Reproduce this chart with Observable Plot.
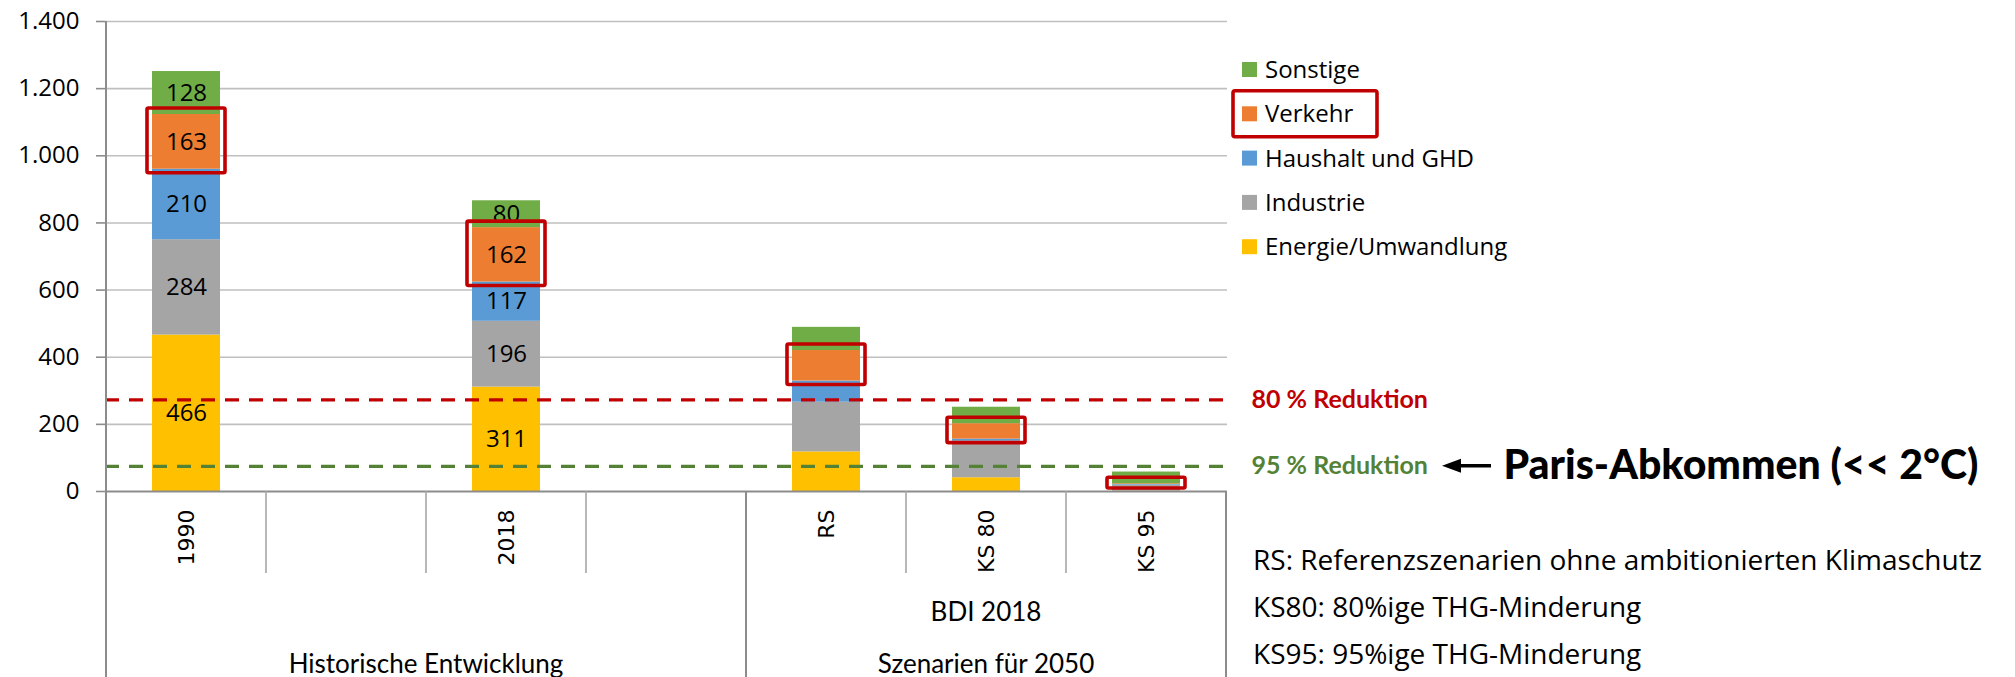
<!DOCTYPE html>
<html><head><meta charset="utf-8">
<script src="https://cdn.jsdelivr.net/npm/d3@7"></script>
<script src="https://cdn.jsdelivr.net/npm/@observablehq/plot@0.6"></script>
<style>
html,body{margin:0;padding:0;background:#fff;overflow:hidden}
</style></head><body><div id="chart"></div>
<script>
// ---- data ----
const categories = ["1990", "leer1", "2018", "leer2", "RS", "KS 80", "KS 95"];
const bars = ["1990", "2018", "RS", "KS 80", "KS 95"];
const sectors = ["Energie/Umwandlung", "Industrie", "Haushalt und GHD", "Verkehr", "Sonstige"];
const sectorColors = ["#FFC000", "#A5A5A5", "#5B9BD5", "#ED7D31", "#70AD47"];
const energie   = [466, 311, 118, 41, 1];
const industrie = [284, 196, 148, 109, 18];
const haushalt  = [210, 117, 63, 6, 2];
const verkehr   = [163, 162, 91, 46, 2];
const sonstige  = [128, 80, 69, 49, 35];
const labelledBars = ["1990", "2018"];
const highlighted = "Verkehr";
const yTicks = [0, 200, 400, 600, 800, 1000, 1200, 1400];
const thresholdLabels = ["80 % Reduktion", "95 % Reduktion"];
const thresholdValues = [273, 75];
const thresholdColors = ["#C00000", "#548235"];
const parisLabel = "Paris-Abkommen (<< 2°C)";
const groupLevel2 = ["BDI 2018"];
const groupLevel3 = ["Historische Entwicklung", "Szenarien für 2050"];
const footnotes = [
  "RS: Referenzszenarien ohne ambitionierten Klimaschutz",
  "KS80: 80%ige THG-Minderung",
  "KS95: 95%ige THG-Minderung"
];

// ---- table ----
const seriesValues = [energie, industrie, haushalt, verkehr, sonstige];
const rows = [];
bars.forEach((cat, i) => sectors.forEach((s, j) => rows.push({cat, sector: s, value: seriesValues[j][i]})));

const de = d3.formatLocale({decimal: ",", thousands: ".", grouping: [3], currency: ["", " €"]});
const fmt = de.format(",d");

const W = 2015, H = 677;
const stackOpts = {x: "cat", y: "value", z: "sector", order: sectors};

const marks = [
  Plot.gridY(yTicks.filter(d => d > 0), {stroke: "#BFBFBF", strokeOpacity: 1, strokeWidth: 1.6}),
  Plot.barY(rows, Plot.stackY({...stackOpts, fill: "sector"})),
  Plot.text(rows, Plot.filter(d => labelledBars.includes(d.cat),
    Plot.stackY({...stackOpts, text: d => fmt(d.value), fill: "#000", fontSize: 24, fontFamily: "Open Sans"}))),
  Plot.ruleY([0], {stroke: "#8C8C8C", strokeWidth: 2.2}),
  Plot.axisY(yTicks, {tickFormat: fmt, tickSize: 9, tickPadding: 17, stroke: "#8C8C8C", strokeWidth: 1.6, fill: "#000",
    fontSize: 24, fontFamily: "Open Sans", label: null}),
  Plot.axisX({tickFormat: d => d.startsWith("leer") ? "" : d, tickRotate: -90, tickSize: 0, tickPadding: 18,
    fontSize: 22, fontFamily: "DejaVu Sans", fill: "#000", label: null})
];
thresholdValues.forEach((v, i) => {
  marks.push(Plot.ruleY([v], {stroke: thresholdColors[i], strokeWidth: 3.2, strokeDasharray: "14,10"}));
  marks.push(Plot.text([v], {y: d => d, text: () => thresholdLabels[i], frameAnchor: "right", textAnchor: "start",
    dx: 24, fill: thresholdColors[i], fontWeight: "bold", fontFamily: "Lato", fontSize: 25}));
});
marks.push(Plot.text([thresholdValues[1]], {y: d => d, text: () => parisLabel, frameAnchor: "right", textAnchor: "start",
  dx: 276, fill: "#000", fontWeight: 900, fontFamily: "Lato", fontSize: 41, letterSpacing: 1.3}));
marks.push(Plot.barY(rows, Plot.filter(d => d.sector === highlighted, Plot.stackY({...stackOpts,
  fill: "none", stroke: "#C00000", strokeWidth: 3.6, insetTop: -6, insetBottom: -4, insetLeft: -5, insetRight: -5, rx: 1.5}))));

const plot = Plot.plot({
  width: W, height: H,
  marginLeft: 105, marginRight: W - 1227, marginTop: 21, marginBottom: H - 491,
  style: {fontFamily: "Open Sans", fontSize: "24px", color: "#000", background: "#fff", overflow: "visible"},
  x: {domain: categories, paddingInner: 0.576, paddingOuter: 0.288, label: null},
  y: {domain: [0, 1400], label: null},
  color: {domain: sectors, range: sectorColors},
  marks
});
document.getElementById("chart").appendChild(plot);

// ---- category axis furniture, legend, notes (positioned from the plot's scales) ----
const svg = d3.select(plot);
const xs = plot.scale("x"), ys = plot.scale("y");
const step = xs.step, bw = xs.bandwidth;
const left = c => xs.apply(c) - (step - bw) / 2;
const right = c => xs.apply(c) + bw + (step - bw) / 2;
const y0 = ys.apply(0);
const g = svg.append("g");
const longBounds = [left(categories[0]), left("RS"), right(categories[categories.length - 1])];
const shortBounds = categories.slice(1).map(c => left(c)).filter(x => Math.abs(x - left("RS")) > 1);
g.selectAll(".sb").data(shortBounds).join("line").attr("x1", d => d).attr("x2", d => d)
  .attr("y1", y0).attr("y2", y0 + 82).attr("stroke", "#A6A6A6").attr("stroke-width", 1.6);
g.selectAll(".lb").data(longBounds).join("line").attr("x1", d => d).attr("x2", d => d)
  .attr("y1", d => d === longBounds[0] ? ys.apply(1400) : y0).attr("y2", H).attr("stroke", "#8C8C8C").attr("stroke-width", 2);

const scenarioMid = (left("RS") + right("KS 95")) / 2;
const histMid = (left("1990") + right("leer2")) / 2;
const gl = g.append("g").attr("font-family", "Lato").attr("font-size", 26).attr("text-anchor", "middle").attr("fill", "#000");
gl.append("text").attr("x", scenarioMid).attr("y", y0 + 121).attr("dy", "0.35em").text(groupLevel2[0]);
gl.append("text").attr("x", histMid).attr("y", y0 + 173).attr("dy", "0.35em").text(groupLevel3[0]);
gl.append("text").attr("x", scenarioMid).attr("y", y0 + 173).attr("dy", "0.35em").text(groupLevel3[1]);

// arrow towards 95 % line label
const ya = ys.apply(thresholdValues[1]);
const ax = right("KS 95");
g.append("line").attr("x1", ax + 265).attr("x2", ax + 230).attr("y1", ya).attr("y2", ya).attr("stroke", "#000").attr("stroke-width", 3.6);
g.append("path").attr("d", `M${ax + 216},${ya} L${ax + 235},${ya - 7} L${ax + 235},${ya + 7} Z`).attr("fill", "#000");

// legend
const legend = g.append("g").attr("font-family", "Open Sans").attr("font-size", 24).attr("text-anchor", "start");
const legOrder = sectors.slice().reverse();
legOrder.forEach((s, i) => {
  const cy = 69.5 + i * 44.3;
  legend.append("rect").attr("x", 1242).attr("y", cy - 7.5).attr("width", 15).attr("height", 15)
    .attr("fill", sectorColors[sectors.indexOf(s)]);
  legend.append("text").attr("x", 1265).attr("y", cy).attr("dy", "0.35em").attr("fill", "#000").text(s);
  if (s === highlighted) {
    legend.append("rect").attr("x", 1233).attr("y", cy - 23).attr("width", 144).attr("height", 46).attr("rx", 2)
      .attr("fill", "none").attr("stroke", "#C00000").attr("stroke-width", 3.6);
  }
});

// footnotes
const notes = g.append("g").attr("font-family", "Open Sans").attr("font-size", 28).attr("fill", "#000").attr("text-anchor", "start");
footnotes.forEach((t, i) => notes.append("text").attr("x", 1253).attr("y", 560 + i * 47).attr("dy", "0.35em").text(t));
</script></body></html>
